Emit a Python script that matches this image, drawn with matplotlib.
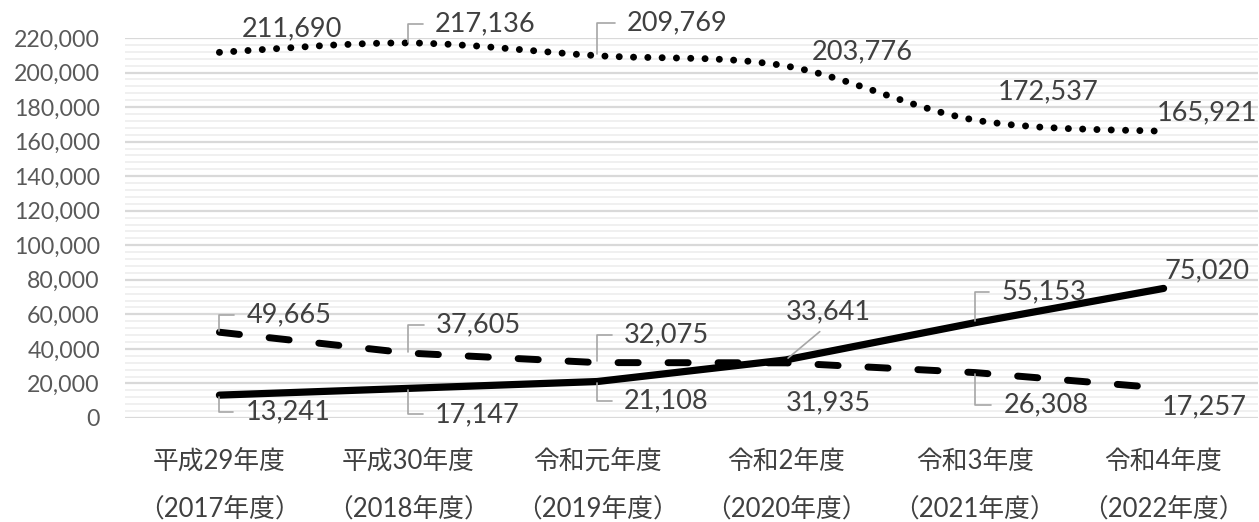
import numpy as np
import matplotlib
matplotlib.use("Agg")
import matplotlib.pyplot as plt
from matplotlib.path import Path
from matplotlib.patches import PathPatch
from matplotlib.ticker import MultipleLocator, FuncFormatter

# categories (two-line tick labels)
cats_top = ["平成29年度", "平成30年度", "令和元年度", "令和2年度", "令和3年度", "令和4年度"]
cats_bottom = ["（2017年度）", "（2018年度）", "（2019年度）", "（2020年度）", "（2021年度）", "（2022年度）"]

# series values
dotted_vals = [211690, 217136, 209769, 203776, 172537, 165921]
dashed_vals = [49665, 37605, 32075, 31935, 26308, 17257]
solid_vals = [13241, 17147, 21108, 33641, 55153, 75020]

# label offsets in pixels (dx, dy, leader kind)
dotted_offs = [(22, 24, None), (27, 19, "e"), (30, 33, "e"), (26, 14, None), (23, 28, None), (-7, 19, None)]
dashed_offs = [(27, 17, "e"), (28, 28, "e"), (27, 28, "e"), (0, -40, None), (29, -32, "e"), (-2, -19, None)]
solid_offs = [(26, -17, "e"), (27, -26, "e"), (27, -19, "e"), (0, 48, "s"), (27, 31, "e"), (1, 18, None)]

plt.rcParams["font.family"] = ["Lato", "Noto Sans CJK JP"]

fig = plt.figure(figsize=(12.59, 5.22), dpi=100)
ax = fig.add_axes([125 / 1259, 104 / 522, 1133 / 1259, 380 / 522])
x = np.arange(len(cats_top))
ax.set_xlim(-0.5, len(cats_top) - 0.5)
ax.set_ylim(0, 220000)

# grid
ax.yaxis.set_major_locator(MultipleLocator(20000))
ax.yaxis.set_minor_locator(MultipleLocator(4000))
ax.grid(which="major", axis="y", color="#d9d9d9", lw=1.6)
ax.grid(which="minor", axis="y", color="#ececec", lw=1.1)
ax.set_axisbelow(True)
for sp in ax.spines.values():
    sp.set_visible(False)
ax.tick_params(which="both", length=0)
ax.yaxis.set_major_formatter(FuncFormatter(lambda v, _: f"{int(v):,}"))
ax.tick_params(axis="y", labelsize=16.7, labelcolor="#595959", pad=18)
ax.set_xticks(x, [f"{a}\n{b}" for a, b in zip(cats_top, cats_bottom)])
ax.tick_params(axis="x", labelsize=18.5, labelcolor="#404040", pad=22)
for lbl in ax.get_xticklabels():
    lbl.set_linespacing(2.15)

# smoothed dotted line (Catmull-Rom as bezier segments)
pts = list(zip(x, dotted_vals))
verts, codes = [pts[0]], [Path.MOVETO]
n = len(pts)
for i in range(n - 1):
    p0, p1, p2, p3 = pts[max(i - 1, 0)], pts[i], pts[i + 1], pts[min(i + 2, n - 1)]
    c1 = (p1[0] + (p2[0] - p0[0]) / 6, p1[1] + (p2[1] - p0[1]) / 6)
    c2 = (p2[0] - (p3[0] - p1[0]) / 6, p2[1] - (p3[1] - p1[1]) / 6)
    verts += [c1, c2, p2]
    codes += [Path.CURVE4] * 3
ax.add_patch(PathPatch(Path(verts, codes), fill=False, edgecolor="black", lw=5.0,
                       linestyle=(0, (0.01, 2.05)), capstyle="round", zorder=3))

ax.plot(x, dashed_vals, color="black", lw=5.0, linestyle=(0, (2.9, 4.3)),
        dash_capstyle="round", solid_joinstyle="round", zorder=3)
ax.plot(x, solid_vals, color="black", lw=5.2, solid_capstyle="round",
        solid_joinstyle="round", zorder=4)


def put(xi, v, dx, dy, leader):
    kw = {}
    if leader == "e":
        kw["arrowprops"] = dict(arrowstyle="-", color="#a6a6a6", lw=1.2,
                                connectionstyle="angle,angleA=0,angleB=90,rad=0",
                                shrinkA=7, shrinkB=1, relpos=(0, 0.5))
    elif leader == "s":
        kw["arrowprops"] = dict(arrowstyle="-", color="#a6a6a6", lw=1.2,
                                shrinkA=5, shrinkB=2, relpos=(0.5, 0))
    ax.annotate(f"{v:,}", (xi, v), xytext=(dx, dy), textcoords="offset pixels",
                ha="left", va="center", fontsize=19.5, color="#404040", zorder=5, **kw)


for vals, offs in [(dotted_vals, dotted_offs), (dashed_vals, dashed_offs), (solid_vals, solid_offs)]:
    for xi, v, (dx, dy, ld) in zip(x, vals, offs):
        put(xi, v, dx, dy, ld)

fig.savefig("out.png", dpi=100)
